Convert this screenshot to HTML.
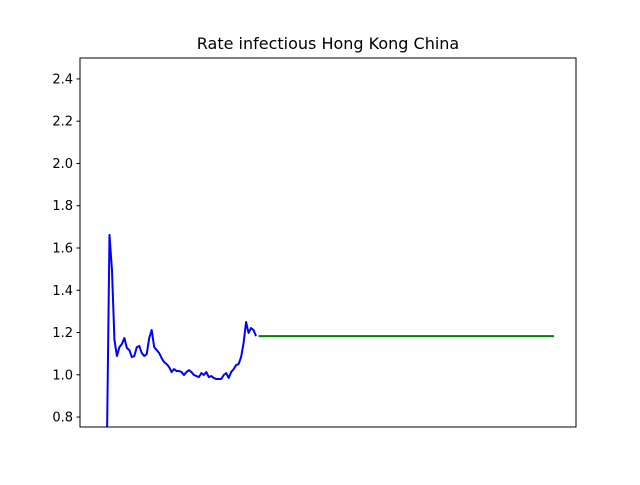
<!DOCTYPE html>
<html><head><meta charset="utf-8"><style>
body{margin:0;background:#fff;}
svg text{font-family:"DejaVu Sans","Liberation Sans",sans-serif;}
</style></head><body>
<svg id="chart" width="640" height="480" xmlns="http://www.w3.org/2000/svg">
<rect width="640" height="480" fill="#fff"/>
<defs><clipPath id="clip"><rect x="80" y="58" width="496" height="369"/></clipPath></defs>
<text x="328" y="49" text-anchor="middle" font-size="16">Rate infectious Hong Kong China</text>
<g id="yaxis"></g>
<g id="series" clip-path="url(#clip)"></g>
<rect x="80" y="58" width="496" height="369" fill="none" stroke="#000" stroke-width="1"/>
</svg>
<script>
const yTicks=[0.8,1.0,1.2,1.4,1.6,1.8,2.0,2.2,2.4];
const yTickLabels=["0.8","1.0","1.2","1.4","1.6","1.8","2.0","2.2","2.4"];
const observedRate=[0.70,1.662,1.496,1.165,1.089,1.131,1.146,1.174,1.127,1.117,1.084,1.089,1.131,1.136,1.103,1.089,1.098,1.174,1.212,1.131,1.117,1.103,1.079,1.060,1.051,1.037,1.013,1.027,1.018,1.018,1.013,0.999,1.013,1.022,1.013,0.999,0.994,0.989,1.008,0.999,1.013,0.989,0.994,0.985,0.980,0.980,0.980,0.999,1.008,0.985,1.013,1.027,1.046,1.051,1.084,1.150,1.250,1.198,1.221,1.212,1.183];
const forecastStart=61, forecastEnd=180;
const forecastRate=[1.183,1.183];
const ns="http://www.w3.org/2000/svg";
const svg=document.getElementById('chart');
const yMin=0.753,yMax=2.499;
function ys(v){return 427-(v-yMin)/(yMax-yMin)*369;}
function xs(i){return 107+i*(149/60);}
const ya=document.getElementById('yaxis');
yTicks.forEach((t,k)=>{
 const y=ys(t);
 const l=document.createElementNS(ns,'line');
 l.setAttribute('x1',76.5);l.setAttribute('x2',80);l.setAttribute('y1',y);l.setAttribute('y2',y);l.setAttribute('stroke','#000');
 
 
 ya.appendChild(l);
 const tx=document.createElementNS(ns,'text');
 tx.setAttribute('x',73);tx.setAttribute('y',y+4.5);tx.setAttribute('text-anchor','end');tx.setAttribute('font-size','13');
 tx.textContent=yTickLabels[k];
 
 
 ya.appendChild(tx);
});
const g=document.getElementById('series');
const p1=document.createElementNS(ns,'polyline');
p1.setAttribute('points',observedRate.map((v,i)=>xs(i)+','+ys(v)).join(' '));
p1.setAttribute('fill','none');p1.setAttribute('stroke','#0000ff');p1.setAttribute('stroke-width','2');p1.setAttribute('stroke-linejoin','round');


g.appendChild(p1);
const fx=[forecastStart,forecastEnd];
const p2=document.createElementNS(ns,'polyline');
p2.setAttribute('points',forecastRate.map((v,i)=>xs(fx[i])+','+ys(v)).join(' '));
p2.setAttribute('fill','none');p2.setAttribute('stroke','#008000');p2.setAttribute('stroke-width','2');


g.appendChild(p2);
</script>
</body></html>
